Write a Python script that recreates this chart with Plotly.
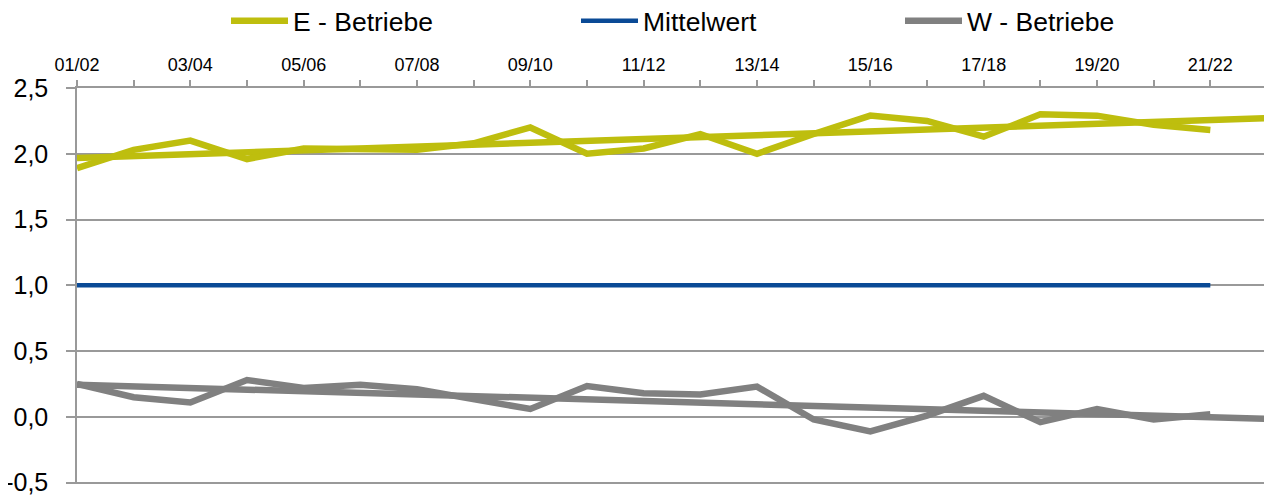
import numpy as np
import plotly.graph_objects as go

# ── Data ──────────────────────────────────────────────────────────────────────
seasons = ["01/02", "02/03", "03/04", "04/05", "05/06", "06/07", "07/08",
           "08/09", "09/10", "10/11", "11/12", "12/13", "13/14", "14/15",
           "15/16", "16/17", "17/18", "18/19", "19/20", "20/21", "21/22",
           "22/23"]

e_betriebe = [1.89, 2.03, 2.10, 1.96, 2.04, 2.03, 2.03, 2.08, 2.20, 2.00,
              2.04, 2.15, 2.00, 2.15, 2.29, 2.25, 2.13, 2.30, 2.29, 2.22, 2.18]
w_betriebe = [0.25, 0.15, 0.11, 0.28, 0.22, 0.245, 0.21, 0.14, 0.06, 0.235,
              0.18, 0.17, 0.23, -0.02, -0.11, 0.01, 0.16, -0.04, 0.06, -0.02, 0.02]
mittelwert = [1.0] * 21

y_ticks = [-0.5, 0.0, 0.5, 1.0, 1.5, 2.0, 2.5]
y_labels = ["-0,5", "0,0", "0,5", "1,0", "1,5", "2,0", "2,5"]

OLIVE = "#bebe0e"
BLUE = "#0a4a96"
GREY = "#808080"
AXIS = "#999999"


def trend(values, n_out):
    """Linear trend over the observed seasons, extended to n_out points."""
    x = np.arange(len(values))
    slope, icpt = np.polyfit(x, values, 1)
    return slope * np.arange(n_out) + icpt


# ── Chart ─────────────────────────────────────────────────────────────────────
fig = go.Figure()

fig.add_trace(go.Scatter(x=seasons, y=trend(e_betriebe, len(seasons)),
                         mode="lines", line=dict(color=OLIVE, width=6.5),
                         showlegend=False, hoverinfo="skip"))
fig.add_trace(go.Scatter(x=seasons, y=trend(w_betriebe, len(seasons)),
                         mode="lines", line=dict(color=GREY, width=6.5),
                         showlegend=False, hoverinfo="skip"))

fig.add_trace(go.Scatter(x=seasons[:21], y=e_betriebe, name="E - Betriebe",
                         mode="lines", line=dict(color=OLIVE, width=6.5),
                         legend="legend"))
fig.add_trace(go.Scatter(x=seasons[:21], y=mittelwert, name="Mittelwert",
                         mode="lines", line=dict(color=BLUE, width=4.5),
                         legend="legend2"))
fig.add_trace(go.Scatter(x=seasons[:21], y=w_betriebe, name="W - Betriebe",
                         mode="lines", line=dict(color=GREY, width=6.5),
                         legend="legend3"))

fig.update_xaxes(
    type="category", side="top", range=[0, len(seasons) - 1],
    tickvals=seasons,
    ticktext=[s if i % 2 == 0 else "" for i, s in enumerate(seasons)],
    ticks="outside", ticklen=6, tickcolor=AXIS, tickwidth=1.5,
    showline=True, linecolor=AXIS, linewidth=1.5,
    showgrid=False, automargin=False, ticklabelstandoff=2,
    tickfont=dict(size=18, color="#000"),
)
fig.update_yaxes(
    range=[-0.51, 2.5], tickvals=y_ticks, ticktext=y_labels,
    ticks="outside", ticklen=9, tickcolor=AXIS, tickwidth=1.5,
    showline=True, linecolor=AXIS, linewidth=1.5,
    showgrid=True, gridcolor=AXIS, gridwidth=1.5,
    zeroline=False, automargin=False, ticklabelstandoff=13,
    ticklabeloverflow="allow",
    tickfont=dict(size=25, color="#000"),
)

# page body adds an 8px offset, so the figure is 8px smaller on each axis
leg = dict(orientation="h", y=1 + 67 / 396, yanchor="middle",
           xanchor="left", font=dict(size=26.5), itemwidth=57,
           bgcolor="rgba(0,0,0,0)")
fig.update_layout(
    width=1264, height=487,
    margin=dict(l=69, r=5, t=80, b=11, autoexpand=False),
    plot_bgcolor="white", paper_bgcolor="white",
    font=dict(family="Liberation Sans, Arial, sans-serif", color="#000"),
    legend=dict(leg, x=(226 - 77) / 1190),
    legend2=dict(leg, x=(576 - 77) / 1190),
    legend3=dict(leg, x=(900 - 77) / 1190),
)

fig.write_html("out.html")
